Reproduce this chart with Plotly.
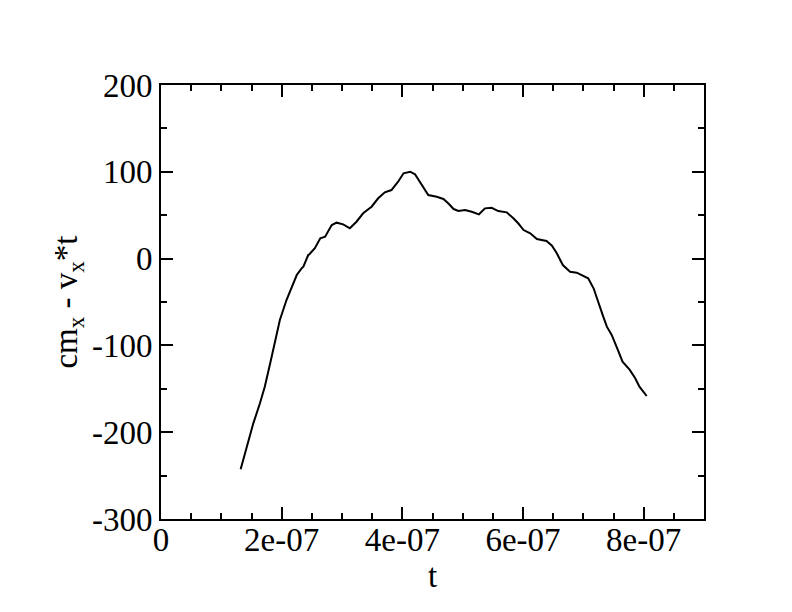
import plotly.graph_objects as go

t_vals = [1.32, 1.42, 1.53, 1.64, 1.72, 1.81, 1.89, 1.97, 2.08, 2.19, 2.25, 2.33, 2.36, 2.44, 2.46,
          2.55, 2.64, 2.72, 2.83, 2.91, 3.02, 3.13, 3.24, 3.35, 3.49, 3.60, 3.71, 3.82, 3.93,
          4.02, 4.13, 4.21, 4.27, 4.35, 4.43, 4.57, 4.68, 4.76, 4.85, 4.93, 5.04, 5.15, 5.27,
          5.37, 5.48, 5.59, 5.73, 5.84, 5.92, 6.01, 6.12, 6.23, 6.39, 6.48, 6.56, 6.66, 6.78,
          6.89, 7.00, 7.08, 7.17, 7.25, 7.33, 7.39, 7.47, 7.55, 7.65, 7.77, 7.86, 7.93, 8.05]
cm_vals = [-242.7, -216.7, -189.8, -166.7, -147.6, -120.6, -93.8, -70.7, -47.7, -28.5, -18.9, -11.2, -9.3, 4.1, 5.0,
           11.9, 23.4, 25.2, 38.7, 41.4, 39.5, 34.9, 42.5, 52.2, 59.8, 69.5, 76.4, 79.0, 88.6,
           98.3, 100.1, 97.1, 90.6, 81.0, 73.3, 71.3, 68.7, 63.7, 57.1, 54.8, 56.0, 54.0, 51.0,
           57.9, 58.6, 54.8, 53.3, 46.4, 40.7, 32.9, 29.1, 22.6, 20.3, 14.9, 6.1, -7.4, -15.1,
           -16.2, -20.0, -22.7, -34.2, -51.5, -66.9, -78.4, -88.0, -101.5, -118.8, -128.3, -137.9, -147.6, -158.3]
t = [v * 1e-7 for v in t_vals]

x_tickvals = [0, 2e-7, 4e-7, 6e-7, 8e-7]
x_ticktext = ["0", "2e-07", "4e-07", "6e-07", "8e-07"]
y_tickvals = [-300, -200, -100, 0, 100, 200]
y_ticktext = ["-300", "-200", "-100", "0", "100", "200"]

font = dict(family="Liberation Serif, Times New Roman, serif", size=33, color="black")

fig = go.Figure()
fig.add_trace(go.Scatter(x=t, y=cm_vals, mode="lines",
                         line=dict(color="black", width=2), showlegend=False))

axis_common = dict(showgrid=False, zeroline=False, showline=True, linecolor="black", linewidth=2,
                   mirror="allticks", ticks="inside", ticklen=12, tickwidth=2, tickcolor="black",
                   tickfont=font)

fig.update_xaxes(range=[0, 9e-7], tickmode="array", tickvals=x_tickvals, ticktext=x_ticktext,
                 ticklabelstandoff=-10,
                 minor=dict(dtick=0.5e-7, ticks="inside", ticklen=6, tickwidth=2, tickcolor="black"),
                 title=dict(text="t", font=font, standoff=0), **axis_common)
fig.update_yaxes(range=[-300, 200], tickmode="array", tickvals=y_tickvals, ticktext=y_ticktext,
                 minor=dict(dtick=50, ticks="inside", ticklen=6, tickwidth=2, tickcolor="black"),
                 title=dict(text="cm<sub>x</sub> - v<sub>x</sub>*t", font=font, standoff=4), **axis_common)

fig.update_layout(width=784, height=604, plot_bgcolor="white", paper_bgcolor="white",
                  margin=dict(l=153, r=88, t=77, b=93), font=font)

fig.write_html("out.html")
